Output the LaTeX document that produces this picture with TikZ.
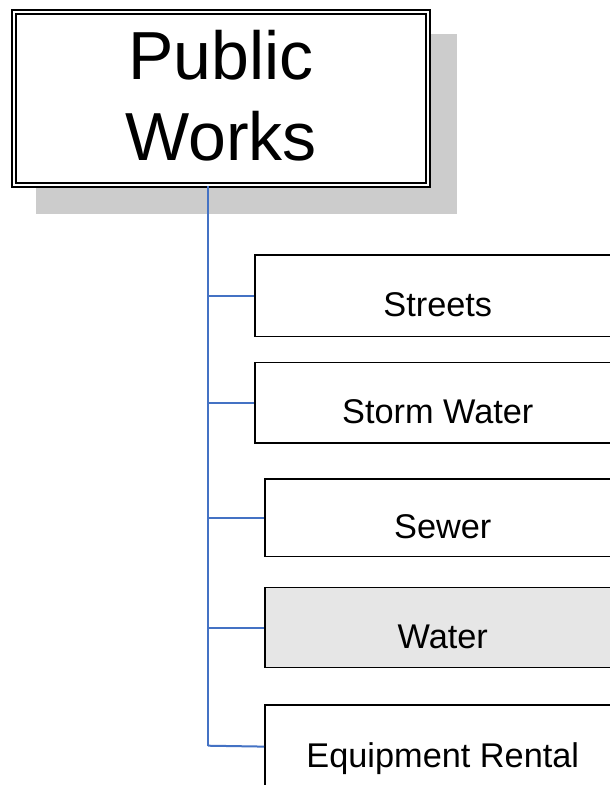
\documentclass[tikz,border=0pt]{standalone}
\usepackage{fontspec}
\setmainfont{Liberation Sans}
\definecolor{connblue}{HTML}{4472C4}
\definecolor{shadowgray}{HTML}{CCCCCC}
\definecolor{watergray}{HTML}{E6E6E6}
\begin{document}
\begin{tikzpicture}[x=1pt,y=-1pt,
  topbox/.style={draw=black, line width=1.8pt, double=white, double distance=2pt, fill=white,
    inner sep=0pt, align=center, text depth=7pt, font=\fontsize{68}{81}\selectfont},
  unitbox/.style={draw=black, line width=1.6pt, fill=white, inner sep=0pt,
    anchor=north west, text height=41pt, text depth=0pt, font=\fontsize{34.3}{40}\selectfont},
  conn/.style={draw=connblue, line width=2pt}]
\useasboundingbox (0,0) rectangle (610,785);
\clip (0,0) rectangle (610,785);
% shadow
\fill[shadowgray] (36,34) rectangle (457,214);
% top box
\node[topbox, minimum width=414pt, minimum height=173pt] (pw) at (221,98.4) {Public\\Works};
% unit boxes
\node[unitbox, minimum width=366pt, minimum height=81.4pt] (streets) at (254,254.3) {Streets};
\node[unitbox, minimum width=366pt, minimum height=80.6pt] (storm) at (254,361.7) {Storm Water};
\node[unitbox, minimum width=356pt, minimum height=77.4pt] (sewer) at (264,478.3) {Sewer};
\node[unitbox, minimum width=356pt, minimum height=80pt, fill=watergray] (water) at (264,586.7) {Water};
\node[unitbox, minimum width=356pt, minimum height=83pt] (equip) at (264,704.3) {Equipment Rental};
% connectors
\coordinate (trunk) at (208,745.7);
\draw[conn] (pw.south -| trunk) -- (trunk);
\draw[conn] (streets.west -| trunk) -- (streets.west);
\draw[conn] (storm.west -| trunk) -- (storm.west);
\draw[conn] (sewer.west -| trunk) -- (sewer.west);
\draw[conn] (water.west -| trunk) -- (water.west);
\draw[conn] (trunk) -- (equip.west);
\end{tikzpicture}
\end{document}
